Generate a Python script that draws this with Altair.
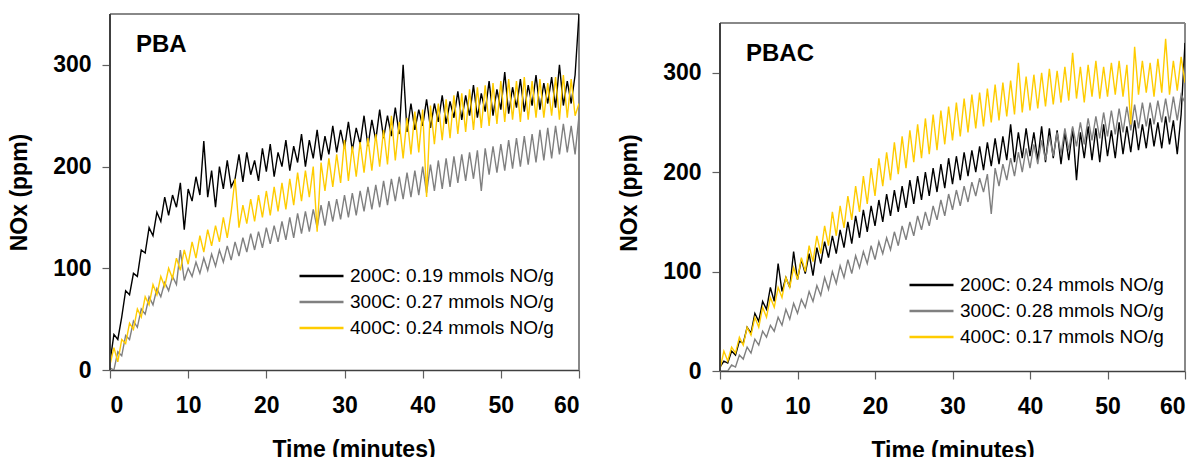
import altair as alt
import pandas as pd

# time axis: every 0.5 minute from 0 to 60
TIME = [i * 0.5 for i in range(121)]

LABELS_PBA = ["200C: 0.19 mmols NO/g", "300C: 0.27 mmols NO/g", "400C: 0.24 mmols NO/g"]
LABELS_PBAC = ["200C: 0.24 mmols NO/g", "300C: 0.28 mmols NO/g", "400C: 0.17 mmols NO/g"]
COLORS = ["#000000", "#808080", "#FFCC00"]

PBA_200 = [8, 35, 30, 52, 78, 74, 95, 92, 118, 115, 140, 132, 155, 146, 170, 152, 172, 160, 184, 138,
           178, 166, 190, 172, 225, 170, 196, 160, 200, 178, 206, 180, 188, 212, 185, 214, 192, 206, 186, 218,
           195, 222, 190, 214, 200, 226, 196, 220, 204, 232, 200, 226, 208, 236, 206, 230, 212, 240, 214, 236,
           218, 244, 216, 238, 222, 250, 220, 246, 226, 256, 228, 250, 230, 258, 232, 300, 234, 262, 236, 256,
           240, 266, 238, 262, 244, 270, 242, 264, 248, 274, 246, 270, 250, 280, 248, 272, 254, 284, 250, 276,
           256, 293, 252, 278, 258, 286, 254, 280, 260, 290, 256, 282, 262, 288, 258, 300, 260, 284, 262, 290,
           350]
PBA_300 = [2, 0, 18, 14, 34, 30, 48, 42, 60, 55, 72, 64, 80, 72, 86, 78, 92, 84, 118, 88,
           100, 92, 106, 95, 110, 98, 114, 102, 118, 106, 122, 108, 126, 112, 130, 116, 134, 118, 136, 120,
           140, 124, 142, 126, 146, 128, 150, 130, 154, 134, 156, 136, 158, 140, 162, 142, 166, 146, 168, 148,
           172, 150, 174, 152, 176, 156, 180, 158, 182, 160, 186, 162, 188, 166, 190, 168, 194, 170, 196, 172,
           200, 174, 202, 176, 206, 178, 208, 180, 210, 184, 212, 186, 214, 188, 216, 176, 218, 192, 220, 194,
           222, 196, 226, 198, 228, 200, 230, 202, 232, 204, 236, 206, 238, 208, 240, 212, 242, 214, 240, 212,
           250]
PBA_400 = [5, 22, 8, 30, 26, 46, 40, 60, 52, 72, 64, 84, 74, 92, 82, 100, 90, 110, 98, 118,
           104, 126, 110, 132, 116, 138, 122, 142, 126, 150, 130, 155, 188, 140, 162, 144, 168, 146, 172, 150,
           176, 152, 180, 156, 184, 158, 188, 162, 194, 166, 196, 170, 200, 136, 204, 176, 208, 180, 212, 184,
           226, 186, 220, 190, 224, 194, 228, 196, 232, 200, 236, 202, 250, 206, 244, 208, 248, 212, 254, 214,
           256, 170, 260, 222, 262, 226, 266, 228, 270, 232, 272, 234, 276, 236, 278, 238, 280, 240, 282, 242,
           284, 244, 286, 246, 284, 244, 288, 246, 284, 248, 286, 248, 282, 250, 288, 246, 290, 248, 286, 250,
           262]

PBAC_200 = [4, 10, 8, 20, 16, 30, 28, 44, 38, 58, 50, 70, 62, 84, 70, 108, 80, 94, 84, 120,
            92, 112, 98, 118, 96, 124, 108, 130, 114, 136, 118, 142, 124, 150, 128, 156, 134, 162, 140, 166,
            146, 172, 150, 178, 156, 182, 160, 186, 164, 192, 168, 196, 172, 200, 176, 204, 180, 208, 184, 214,
            188, 216, 192, 220, 196, 222, 200, 226, 202, 230, 206, 234, 208, 236, 212, 248, 210, 240, 214, 244,
            216, 240, 212, 246, 210, 244, 214, 242, 208, 240, 212, 244, 192, 240, 214, 246, 212, 244, 210, 248,
            216, 242, 214, 250, 218, 246, 220, 252, 222, 248, 224, 254, 226, 250, 224, 256, 228, 252, 218, 258,
            330]
PBAC_300 = [0, 0, 0, 6, 4, 16, 12, 24, 18, 32, 26, 40, 34, 46, 40, 54, 46, 62, 52, 68,
            58, 72, 64, 80, 70, 86, 76, 94, 82, 100, 88, 106, 94, 112, 98, 116, 104, 120, 108, 126,
            112, 130, 118, 134, 122, 140, 126, 146, 132, 150, 136, 156, 142, 160, 146, 166, 152, 172, 156, 178,
            162, 182, 166, 186, 170, 190, 176, 194, 180, 198, 158, 204, 186, 208, 192, 214, 196, 220, 200, 224,
            204, 228, 208, 232, 212, 236, 216, 240, 218, 244, 222, 246, 226, 250, 228, 254, 232, 256, 234, 260,
            236, 262, 238, 264, 240, 266, 242, 268, 244, 270, 246, 270, 248, 272, 250, 274, 250, 276, 252, 278,
            270]
PBAC_400 = [2, 20, 10, 24, 18, 34, 26, 44, 36, 54, 44, 64, 54, 74, 64, 84, 74, 94, 84, 104,
            92, 114, 100, 126, 110, 136, 118, 146, 126, 160, 136, 166, 144, 176, 152, 186, 160, 196, 168, 204,
            176, 214, 186, 220, 192, 230, 198, 236, 204, 242, 210, 248, 214, 254, 218, 258, 222, 262, 228, 266,
            232, 270, 236, 274, 240, 278, 244, 280, 246, 284, 250, 288, 252, 290, 256, 292, 258, 310, 260, 296,
            262, 298, 264, 300, 266, 304, 268, 302, 270, 306, 272, 320, 274, 306, 270, 308, 276, 312, 274, 306,
            276, 310, 278, 312, 276, 308, 248, 326, 278, 312, 280, 310, 276, 314, 280, 334, 278, 312, 282, 316,
            290]

X_TICKS = [0, 10, 20, 30, 40, 50, 60]
Y_TICKS = [0, 100, 200, 300]
X_MAX = 60
Y_MAX = 350

FONT = "Liberation Sans"


def make_df(labels, series):
    rows = []
    for lab, vals in zip(labels, series):
        for t, v in zip(TIME, vals):
            rows.append({"t": t, "v": v, "s": lab})
    return pd.DataFrame(rows)


def panel(name, labels, series, w, h, y_top, title_x_shift, legend_y, label_y):
    df = make_df(labels, series)
    color = alt.Color(
        "s:N",
        scale=alt.Scale(domain=labels, range=COLORS),
        legend=alt.Legend(
            title=None,
            orient="none",
            legendX=188,
            legendY=legend_y,
            symbolType="stroke",
            symbolSize=1936,
            symbolStrokeWidth=2.5,
            labelFont=FONT,
            labelFontSize=19,
            labelColor="#000000",
            labelLimit=400,
            labelOffset=5,
            clipHeight=26,
            rowPadding=0,
            padding=0,
        ),
    )
    x = alt.X(
        "t:Q",
        scale=alt.Scale(domain=[0, X_MAX], nice=False),
        axis=alt.Axis(
            values=X_TICKS,
            title="Time (minutes)",
            titleX=w / 2 + title_x_shift,
            titleY=86,
            titleBaseline="alphabetic",
        ),
    )
    y = alt.Y(
        "v:Q",
        scale=alt.Scale(domain=[0, y_top], nice=False),
        axis=alt.Axis(
            values=Y_TICKS,
            title="NOx (ppm)",
            titleX=-84,
            titleBaseline="alphabetic",
            labelPadding=11,
            domain=False,
        ),
    )
    base = alt.Chart(df)
    layers = []
    # plot frame: top and right in grey, left axis line in dark grey
    layers.append(
        base.mark_rule(color="#888888", strokeWidth=1.5).encode(
            x=alt.datum(0), x2=alt.datum(X_MAX), y=alt.datum(Y_MAX)
        )
    )
    layers.append(
        base.mark_rule(color="#888888", strokeWidth=1.5).encode(
            x=alt.datum(X_MAX), y=alt.datum(0), y2=alt.datum(Y_MAX)
        )
    )
    for lab in labels:
        layers.append(
            base.transform_filter(alt.datum.s == lab)
            .mark_line(strokeWidth=1.4, clip=True)
            .encode(x=x, y=y, color=color)
        )
    layers.append(
        base.mark_rule(color="#404040", strokeWidth=1.5).encode(
            x=alt.datum(0), y=alt.datum(0), y2=alt.datum(Y_MAX)
        )
    )
    lbl = alt.Chart(pd.DataFrame({"txt": [name]})).mark_text(
        align="left", baseline="middle", font=FONT, fontSize=24, fontWeight="bold", color="#000000"
    ).encode(x=alt.value(26), y=alt.value(label_y), text="txt:N")
    layers.append(lbl)
    return alt.layer(*layers).properties(width=w, height=h)


left = panel("PBA", LABELS_PBA, [PBA_200, PBA_300, PBA_400], 469, 356, 350, 9, 249, 31)
# right panel: its frame top sits 9 px lower, so the view is taller than the 0-350 frame
right = panel("PBAC", LABELS_PBAC, [PBAC_200, PBAC_300, PBAC_400], 465, 357, 359.05, 0, 258, 40)

chart = (
    alt.hconcat(left, right, spacing=38)
    .resolve_scale(color="independent")
    .properties(padding={"left": 8, "top": 13, "right": 5, "bottom": 0}, background="#ffffff")
    .configure_view(strokeWidth=0)
    .configure_axis(
        labelFont=FONT,
        labelFontSize=23,
        labelFontWeight="bold",
        labelColor="#000000",
        titleFont=FONT,
        titleFontSize=23,
        titleFontWeight="bold",
        titleColor="#000000",
        domainColor="#404040",
        domainWidth=1.5,
        tickColor="#606060",
        tickSize=8,
        tickWidth=1.2,
        grid=False,
    )
    .configure_axisX(labelPadding=16)
)

chart.save("out.html", embed_options={"renderer": "svg", "actions": False})
